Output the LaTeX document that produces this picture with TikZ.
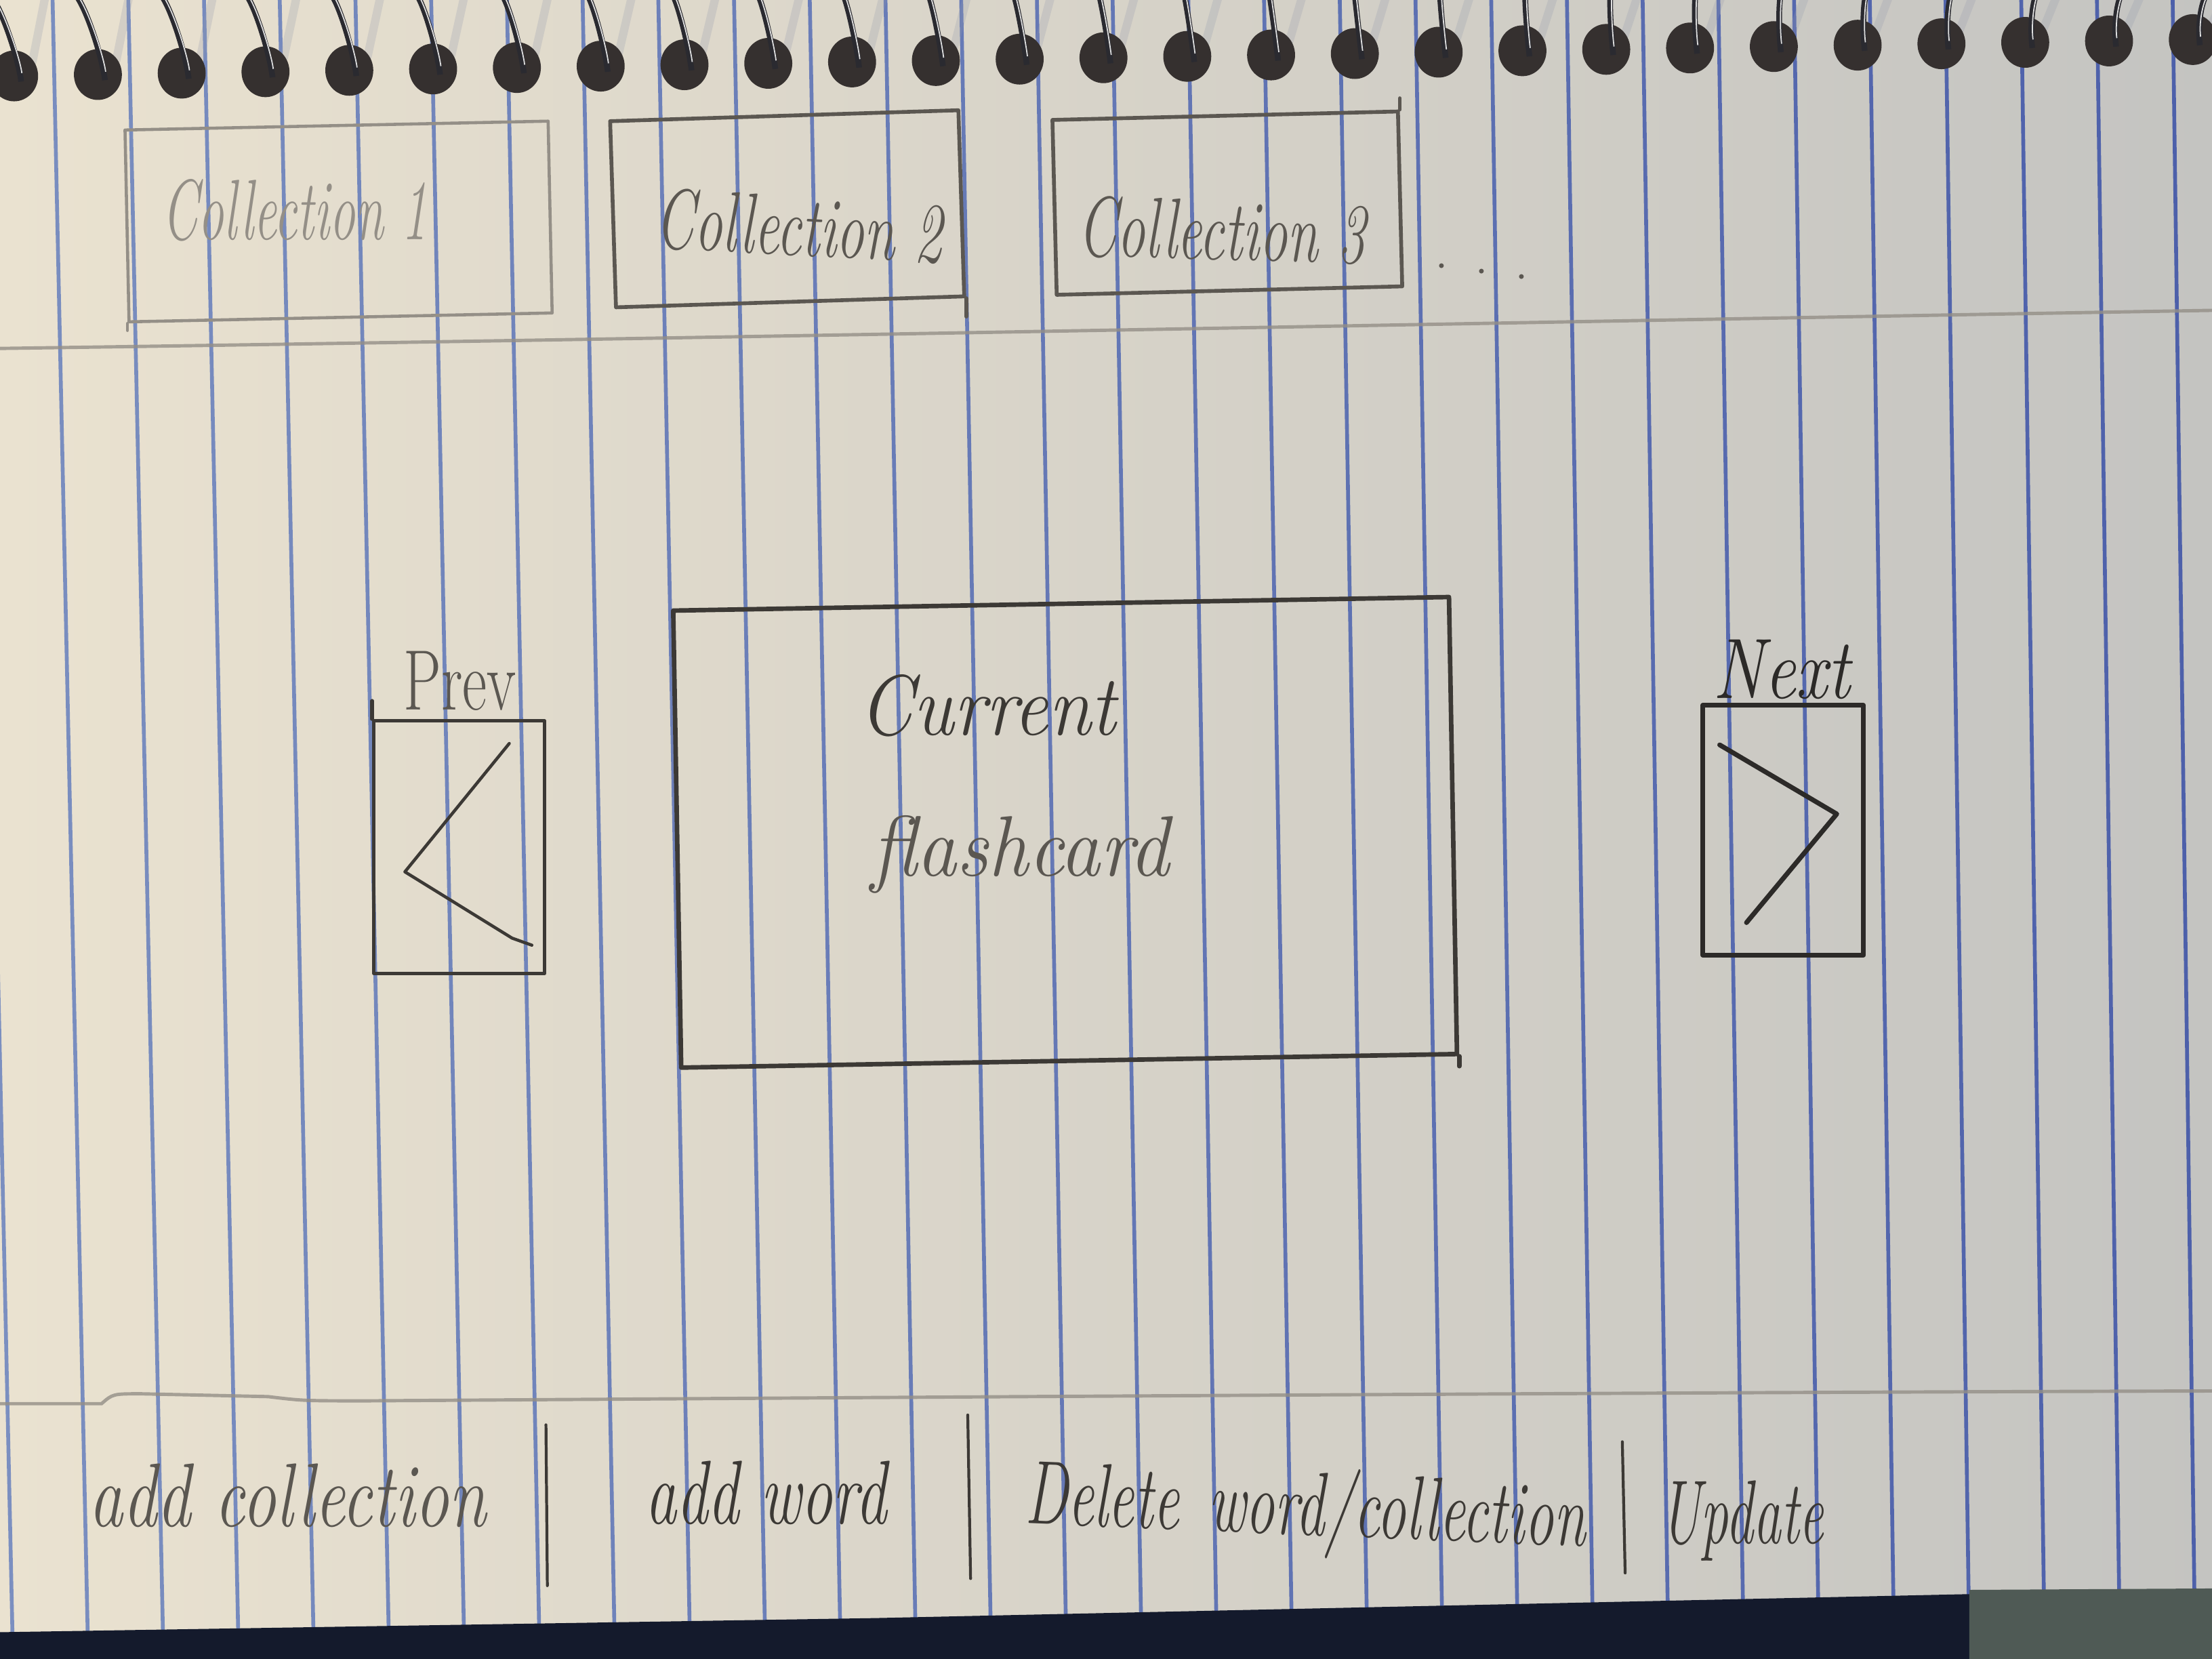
\documentclass[tikz,border=0pt]{standalone}
\usepackage{fontspec}
\definecolor{paperL}{HTML}{EAE2D0}
\definecolor{paperM}{HTML}{E0DAD0}
\definecolor{paperR}{HTML}{C4C4C1}
\definecolor{ruleL}{HTML}{7B8FC0}
\definecolor{ruleR}{HTML}{4D60AA}
\definecolor{graphite}{HTML}{3C3935}
\definecolor{graphiteD}{HTML}{2C2A28}
\definecolor{graphiteM}{HTML}{5B5751}
\definecolor{graphiteL}{HTML}{948F87}
\definecolor{holec}{HTML}{35302F}
\definecolor{wirec}{HTML}{2A2A30}
\definecolor{wireshadow}{HTML}{959BAE}
\definecolor{navy}{HTML}{141A2C}
\definecolor{carpet}{HTML}{4F5A55}
\def\upx{0.020816cm}
\begin{document}
\begin{tikzpicture}[x=0.020816cm, y=-0.020816cm,
  pencil/.style={draw=graphite, line width=1.7pt, line cap=round, line join=round},
  frame/.style={pencil, rectangle, inner sep=0pt},
  sepline/.style={draw=graphiteL, line width=1.4pt, line cap=round, opacity=0.8},
  hand/.style={font=\itshape\fontsize{36}{40}\selectfont, text=graphite, inner sep=0pt, transform shape, anchor=base},
  handB/.style={hand, font=\itshape\fontsize{38}{42}\selectfont},
  print/.style={font=\fontsize{36}{40}\selectfont, text=graphite, inner sep=0pt, transform shape, anchor=base},
]
\useasboundingbox (0,0) rectangle (1568,1176);

% ruled notebook paper
\shade[left color=paperL, middle color=paperM, right color=paperR] (0,0) rectangle (1568,1176);
\foreach \k in {-1,...,28}{
  \pgfmathsetmacro\xt{39+53.65*\k}
  \pgfmathsetmacro\xb{62+53.35*\k}
  \pgfmathsetmacro\sl{(\xb-\xt)/1070}
  \pgfmathsetmacro\xa{\xt-80*\sl}
  \pgfmathsetmacro\xz{\xb+26*\sl}
  \pgfmathsetmacro\mix{100-3.448*(\k+1)}
  \draw[draw=ruleL!\mix!ruleR, line width=1.6pt] (\xa,0) -- (\xz,1176);
}

% spiral binding: punched holes and wire loops
\foreach \i in {0,...,26}{
  \pgfmathsetmacro\hx{10+59.4*\i}
  \pgfmathsetmacro\hy{54-0.0167*\hx}
  \pgfmathsetmacro\off{-20+1.2308*\i}
  \draw[wireshadow, line width=3.5pt, opacity=0.25, line cap=round] (\hx+13,\hy-10) -- (\hx+22,-2);
  \fill[holec] (\hx,\hy) ellipse [x radius=17, y radius=18];
  \draw[wirec, line width=2.4pt] (\hx+5,\hy+4) .. controls (\hx+3,\hy-14) and (\hx+0.6*\off,-4) .. (\hx+\off,-6);
  \draw[white!75!gray, line width=0.5pt] (\hx+5.5,\hy-2) .. controls (\hx+4,\hy-14) and (\hx+0.6*\off+1,-4) .. (\hx+\off+1,-6);
}

% collection tabs
\node[frame, draw=graphiteL, line width=1.3pt, minimum width=300*\upx, minimum height=136*\upx, rotate=1.2] (c1) at (240,157) {};
\node[frame, draw=graphiteM, line width=1.6pt, minimum width=247*\upx, minimum height=132*\upx, rotate=1.8] (c2) at (558,148) {};
\node[frame, draw=graphiteM, line width=1.6pt, minimum width=245*\upx, minimum height=124*\upx, rotate=1.4] (c3) at (870,144) {};
\draw[pencil, draw=graphiteL, line width=1.3pt] (c1.south west) -- ++(0,5);
\draw[pencil, draw=graphiteM, line width=1.6pt] (c2.south east) -- ++(0,13);
\draw[pencil, draw=graphiteM, line width=1.6pt] (c3.north east) -- ++(0,-8);
\node[hand, text=graphiteL, xscale=0.6] (t1) at (209,170) {Collection 1};
\node[hand, text=graphiteM, xscale=0.65, rotate=-2] (t2) at (566,181) {Collection 2};
\node[hand, text=graphiteM, xscale=0.65, rotate=-1] (t3) at (866,184) {Collection 3};
\node[print, font=\fontsize{24}{28}\selectfont, text=graphiteM, rotate=-8] (more) at (1050,194) {.\hspace{11pt}.\hspace{11pt}.};

% header and footer rules
\draw[sepline] (0,247) .. controls (500,240) and (1100,228) .. (1568,220);
\draw[sepline] (0,995) -- (72,995) .. controls (80,988) .. (100,988) -- (190,990) .. controls (215,993) .. (260,993) .. controls (700,990) and (1200,987) .. (1568,986);

% previous button
\node[print, xscale=0.7, text=graphiteM] (prevlbl) at (326,503) {Prev};
\node[frame, line width=1.5pt, minimum width=121*\upx, minimum height=179*\upx] (prev) at (325.5,600.5) {};
\draw[pencil, line width=1.5pt] (prev.north west) -- ++(0,-13);
\draw[pencil, line width=1.3pt] (361,527) -- (287,618) -- (363,665) -- (377,670);

% current card
\node[frame, line width=1.9pt, minimum width=550*\upx, minimum height=324*\upx, rotate=1.0] (card) at (755,590) {};
\draw[pencil, line width=1.9pt] (card.south east) -- ++(0,7);
\node[hand, xscale=0.9] (cur) at (700,521) {Current};
\node[hand, text=graphiteM, xscale=0.93] (fc) at (723,621) {flashcard};

% next button
\node[print, font=\itshape\fontsize{36}{40}\selectfont, xscale=0.82, text=graphiteD] (nextlbl) at (1263,495) {Next};
\node[frame, draw=graphiteD, line width=2pt, minimum width=114*\upx, minimum height=177*\upx] (next) at (1264,588.5) {};
\draw[pencil, draw=graphiteD, line width=2pt] (1219,528) -- (1302,577) -- (1238,654);

% action bar
\node[handB, text=graphiteM, xscale=0.75] (addc) at (204,1082) {add collection};
\node[handB, xscale=0.69] (addw) at (543,1080) {add word};
\node[handB, xscale=0.64, rotate=-1.5] (del) at (925,1088) {Delete\hspace{0.5em}word/collection};
\node[handB, xscale=0.61] (upd) at (1235,1094) {Update};
\draw[pencil, line width=1.2pt] (387,1010) -- (388,1124);
\draw[pencil, line width=1.2pt] (686,1003) -- (688,1119);
\draw[pencil, line width=1.2pt] (1150,1022) -- (1152,1115);

% table surface below the page
\fill[navy] (0,1157) -- (620,1147) -- (1396,1130) -- (1396,1176) -- (0,1176) -- cycle;
\fill[carpet] (1396,1127) -- (1568,1126) -- (1568,1176) -- (1396,1176) -- cycle;
\end{tikzpicture}
\end{document}
